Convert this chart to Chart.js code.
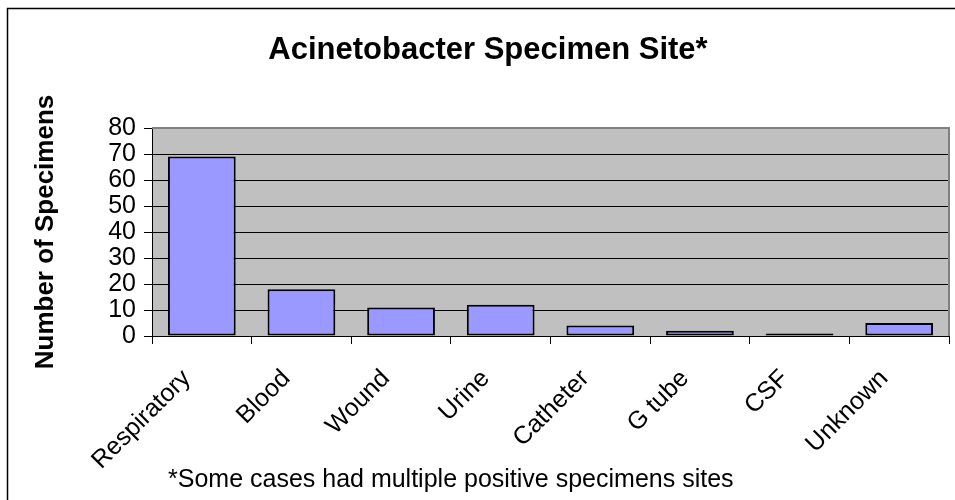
<!DOCTYPE html>
<html>
<head>
<meta charset="utf-8">
<script src="https://cdn.jsdelivr.net/npm/chart.js@4"></script>
<style>
  html, body { margin: 0; padding: 0; background: #fff; }
  #wrap { width: 955px; height: 500px; position: relative; }
</style>
</head>
<body>
<div id="wrap"><canvas id="grafico" width="955" height="500"></canvas></div>
<script>
// dados
const categorias = ['Respiratory', 'Blood', 'Wound', 'Urine', 'Catheter', 'G tube', 'CSF', 'Unknown'];
const especimes = [69, 18, 11, 12, 4, 2, 1, 5];
const ticksY = [0, 10, 20, 30, 40, 50, 60, 70, 80];

const titulo = 'Acinetobacter Specimen Site*';
const tituloY = 'Number of Specimens';
const nota = '*Some cases had multiple positive specimens sites';

const FONTE = "'Liberation Sans', Arial, sans-serif";

// fundo cinza da área do gráfico, moldura e textos extras
const pluginMoldura = {
    id: 'moldura',
    beforeDatasetsDraw(chart) {
        const { ctx, chartArea: a } = chart;
        ctx.save();
        ctx.strokeStyle = '#808080';
        ctx.lineWidth = 2;
        ctx.beginPath();
        ctx.moveTo(a.left, a.top);
        ctx.lineTo(a.right, a.top);
        ctx.lineTo(a.right, a.bottom);
        ctx.stroke();
        ctx.restore();
    },
    beforeDraw(chart) {
        const { ctx, chartArea: a } = chart;
        ctx.save();
        ctx.fillStyle = '#fff';
        ctx.fillRect(0, 0, chart.width, chart.height);
        ctx.fillStyle = '#C0C0C0';
        ctx.fillRect(a.left, a.top, a.right - a.left, a.bottom - a.top);
        // borda externa (só topo e esquerda aparecem)
        ctx.strokeStyle = '#000';
        ctx.lineWidth = 1.5;
        ctx.strokeRect(7.5, 8.5, chart.width + 20, chart.height + 20);
        ctx.restore();
    },
    afterDraw(chart) {
        const { ctx } = chart;
        ctx.save();
        ctx.fillStyle = '#000';
        ctx.textBaseline = 'middle';
        ctx.textAlign = 'center';
        ctx.font = 'bold 31px ' + FONTE;
        ctx.fillText(titulo, 488, 50);
        ctx.textAlign = 'left';
        ctx.textBaseline = 'alphabetic';
        ctx.font = '25px ' + FONTE;
        ctx.fillText(nota, 168, 487);
        ctx.restore();
    }
};

const ctx = document.getElementById('grafico').getContext('2d');

new Chart(ctx, {
    type: 'bar',
    data: {
        labels: categorias,
        datasets: [{
            data: especimes,
            backgroundColor: '#9999FF',
            borderColor: '#000',
            borderWidth: 2,
            borderSkipped: false,
            barPercentage: 1,
            categoryPercentage: 0.68
        }]
    },
    options: {
        responsive: false,
        animation: false,
        devicePixelRatio: 1,
        layout: { padding: { top: 128, left: 20, right: 6, bottom: 0 } },
        plugins: {
            legend: { display: false },
            title: { display: false },
            tooltip: { enabled: false }
        },
        scales: {
            x: {
                offset: true,
                grid: {
                    offset: true,
                    drawOnChartArea: false,
                    color: '#000',
                    tickLength: 8
                },
                border: { color: '#000', width: 1 },
                ticks: {
                    color: '#000',
                    font: { family: FONTE, size: 25 },
                    minRotation: 45,
                    maxRotation: 45,
                    padding: 20,
                    labelOffset: -15
                },
                afterFit(escala) { escala.height = 500 - 336; }
            },
            y: {
                min: 0,
                max: 80,
                afterBuildTicks(escala) { escala.ticks = ticksY.map(v => ({ value: v })); },
                grid: {
                    color: (c) => (c.tick && c.tick.value === 80 ? '#808080' : '#000'),
                    tickColor: '#000',
                    tickLength: 8
                },
                border: { color: '#000', width: 1 },
                ticks: {
                    color: '#000',
                    autoSkip: false,
                    font: { family: FONTE, size: 25 },
                    padding: 8
                },
                title: {
                    display: true,
                    text: tituloY,
                    color: '#000',
                    font: { family: FONTE, size: 26, weight: 'bold' },
                    padding: { top: 10, bottom: 0 }
                },
                afterFit(escala) { escala.width = 152 - 20; }
            }
        }
    },
    plugins: [pluginMoldura]
});
</script>
</body>
</html>
